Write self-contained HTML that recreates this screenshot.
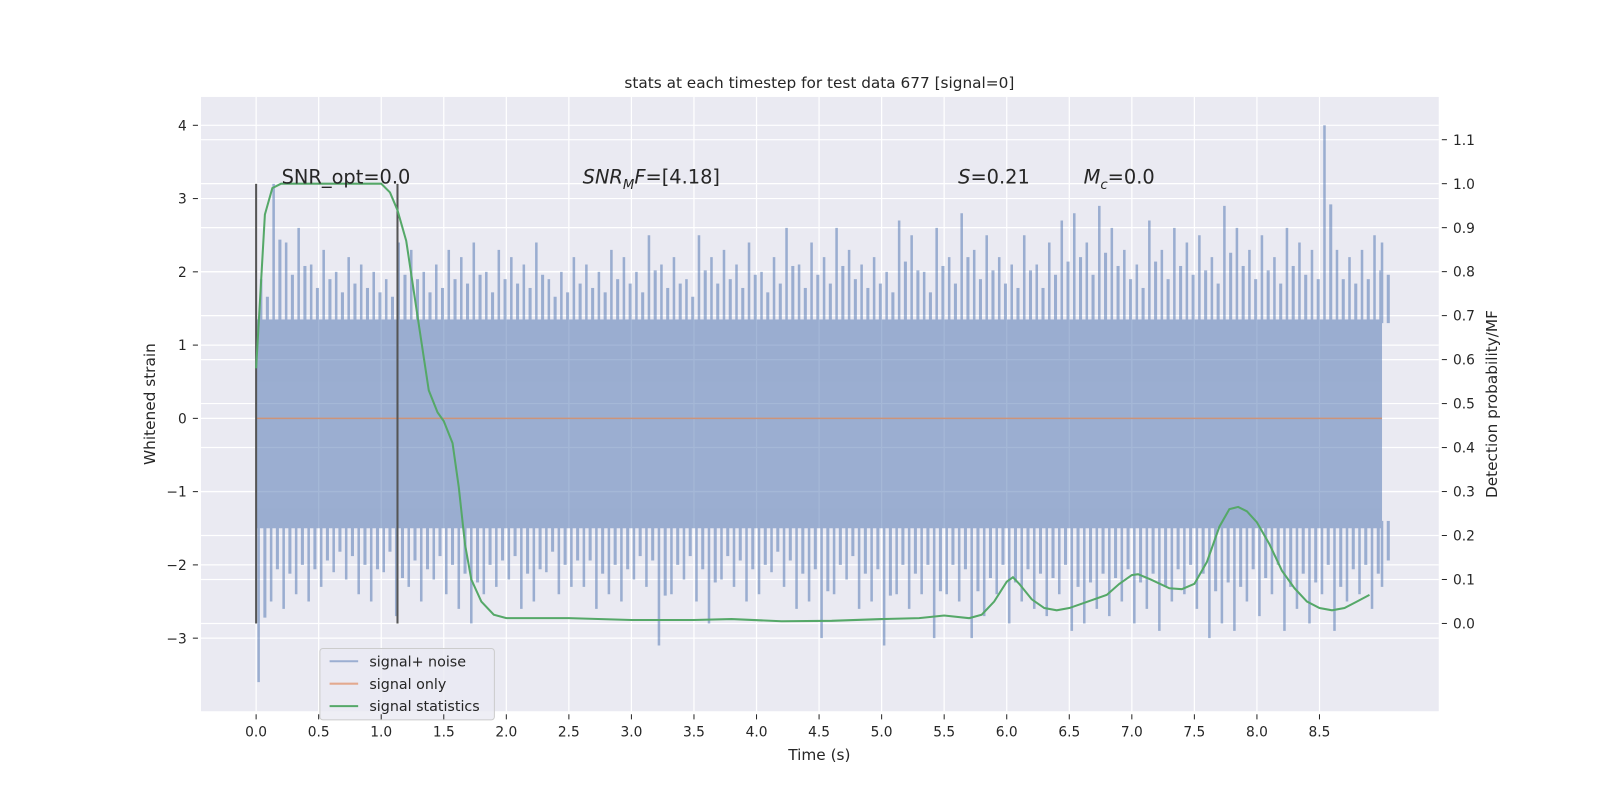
<!DOCTYPE html>
<html><head><meta charset="utf-8"><style>
body{margin:0;background:#fff;}
svg text{font-family:"DejaVu Sans","Liberation Sans",sans-serif;fill:#262626;}
</style></head><body>
<svg width="1600" height="800" xmlns="http://www.w3.org/2000/svg">
<g id="chart" transform="scale(1.0204)">
<rect x="197" y="95" width="1213" height="602" fill="#eaeaf2"/>
<g id="grid"></g>
<g id="noise" opacity="0.5"></g>
<g id="fg"></g>
<text x="803" y="86" font-size="15" text-anchor="middle">stats at each timestep for test data 677 [signal=0]</text>
<text x="803" y="745" font-size="15" text-anchor="middle">Time (s)</text>
<text transform="translate(152,396) rotate(-90)" font-size="15" text-anchor="middle">Whitened strain</text>
<text transform="translate(1467,396) rotate(-90)" font-size="15" text-anchor="middle">Detection probability/MF</text>
<text x="276" y="180" font-size="19">SNR_opt=0.0</text>
<text x="571" y="180" font-size="19"><tspan font-style="italic">SNR</tspan><tspan font-style="italic" font-size="13" dy="5">M</tspan><tspan font-style="italic" dy="-5">F</tspan>=[4.18]</text>
<text x="939" y="180" font-size="19"><tspan font-style="italic">S</tspan>=0.21</text>
<text x="1062" y="180" font-size="19"><tspan font-style="italic">M</tspan><tspan font-style="italic" font-size="13" dy="5">c</tspan><tspan dy="-5">=0.0</tspan></text>
<g>
<rect x="313.5" y="635.5" width="171" height="70" rx="3" fill="#eaeaf2" fill-opacity="0.8" stroke="#ccc"/>
<line x1="323" y1="648" x2="351" y2="648" stroke="#9baed1" stroke-width="2"/>
<text x="362" y="653" font-size="14">signal+ noise</text>
<line x1="323" y1="670" x2="351" y2="670" stroke="#e3a98f" stroke-width="2"/>
<text x="362" y="675" font-size="14">signal only</text>
<line x1="323" y1="692" x2="351" y2="692" stroke="#55a868" stroke-width="2"/>
<text x="362" y="697" font-size="14">signal statistics</text>
</g>
</g>
</svg>
<script>
const xTicks=[0,0.5,1,1.5,2,2.5,3,3.5,4,4.5,5,5.5,6,6.5,7,7.5,8,8.5];
const yTicks=[-3,-2,-1,0,1,2,3,4];
const rTicks=[0,0.1,0.2,0.3,0.4,0.5,0.6,0.7,0.8,0.9,1.0,1.1];
const statT=[0,0.07,0.13,0.2,1.0,1.07,1.13,1.2,1.3,1.38,1.45,1.5,1.57,1.62,1.67,1.72,1.8,1.9,2.0,2.5,3.0,3.5,3.8,4.2,4.6,5.0,5.3,5.5,5.7,5.8,5.9,6.0,6.05,6.1,6.2,6.3,6.4,6.5,6.6,6.8,6.9,7.0,7.05,7.15,7.3,7.4,7.5,7.6,7.7,7.78,7.85,7.92,8.0,8.1,8.2,8.3,8.4,8.5,8.6,8.7,8.8,8.9];
const statV=[0.58,0.93,0.99,1.0,1.0,0.98,0.94,0.87,0.68,0.53,0.48,0.46,0.41,0.31,0.18,0.1,0.05,0.02,0.012,0.012,0.008,0.008,0.01,0.005,0.006,0.01,0.012,0.018,0.012,0.02,0.05,0.095,0.105,0.09,0.055,0.035,0.03,0.035,0.045,0.065,0.09,0.11,0.112,0.1,0.08,0.078,0.09,0.14,0.22,0.26,0.265,0.255,0.23,0.18,0.12,0.08,0.05,0.035,0.03,0.035,0.05,0.065];
const noiseUpper=[1.9,3.2,2.4,2.6,2.1,2.3,2.0,2.2,2.1,2.0,1.9,2.4,2.3,2.0,2.1,2.3,2.2,2.4,2.0,2.3,2.2,2.1,2.4,1.9,2.0,2.2,2.1,2.0,2.3,2.2,2.0,2.5,2.1,2.2,1.9,2.5,2.2,2.3,2.1,2.4,2.0,2.2,2.6,2.1,2.4,2.2,2.6,2.3,2.1,2.2,2.0,2.7,2.5,2.0,2.6,2.2,2.8,2.3,2.5,2.2,2.1,2.5,2.1,2.4,2.7,2.8,2.4,2.9,2.6,2.3,2.1,2.7,2.3,2.6,2.4,2.5,2.2,2.9,2.6,2.3,2.5,2.2,2.6,2.4,2.3,4.0,2.3,2.2,2.3,2.5,2.4];
const noiseLower=[-3.6,-2.5,-2.6,-2.4,-2.5,-2.3,-2.1,-2.2,-2.4,-2.5,-2.1,-2.7,-2.3,-2.5,-2.2,-2.4,-2.6,-2.8,-2.4,-2.3,-2.2,-2.6,-2.5,-2.1,-2.4,-2.3,-2.3,-2.6,-2.4,-2.5,-2.2,-2.3,-3.1,-2.4,-2.2,-2.5,-2.8,-2.2,-2.3,-2.5,-2.4,-2.1,-2.3,-2.6,-2.5,-3.0,-2.4,-2.2,-2.6,-2.5,-3.1,-2.4,-2.6,-2.4,-3.0,-2.4,-2.5,-3.0,-2.7,-2.4,-2.8,-2.5,-2.6,-2.7,-2.4,-2.9,-2.8,-2.6,-2.7,-2.5,-2.8,-2.6,-2.9,-2.5,-2.4,-2.6,-3.0,-2.8,-2.9,-2.5,-2.7,-2.4,-2.9,-2.6,-2.8,-2.4,-2.9,-2.5,-2.4,-2.6,-2.3];
const noiseDT=0.1, noiseEnd=9.0;
const vlinesT=[0,1.13];
const NS="http://www.w3.org/2000/svg";
const X=t=>251+t*122.6, Y=v=>410-v*71.8, R=p=>611-p*431;
function mk(tag,attrs,parent){const e=document.createElementNS(NS,tag);for(const k in attrs)e.setAttribute(k,attrs[k]);parent.appendChild(e);return e;}
const grid=document.getElementById('grid'),svg=document.getElementById('chart'),noise=document.getElementById('noise'),fg=document.getElementById('fg');
xTicks.forEach(t=>{const l=mk('line',{x1:X(t),x2:X(t),y1:95,y2:697,stroke:'#fff','stroke-width':1.2},grid);

const tx=mk('text',{x:X(t),y:722,'font-size':13.5,'text-anchor':'middle'},svg);tx.textContent=t.toFixed(1);
});
yTicks.forEach(v=>{const l=mk('line',{x1:197,x2:1410,y1:Y(v),y2:Y(v),stroke:'#fff','stroke-width':1.2},grid);

const tx=mk('text',{x:183,y:Y(v)+5,'font-size':13.5,'text-anchor':'end'},svg);tx.textContent=v<0?'\u2212'+(-v):v;

mk('line',{x1:189,x2:194,y1:Y(v),y2:Y(v),stroke:'#262626'},svg);});
rTicks.forEach(p=>{const l=mk('line',{x1:197,x2:1410,y1:R(p),y2:R(p),stroke:'#fff','stroke-width':1.2},grid);

mk('line',{x1:1413,x2:1418,y1:R(p),y2:R(p),stroke:'#262626'},svg);
const tx=mk('text',{x:1424,y:R(p)+5,'font-size':13.5},svg);tx.textContent=p.toFixed(1);
});
const band=mk('rect',{x:X(0),y:Y(1.35),width:X(noiseEnd)-X(0),height:Y(-1.5)-Y(1.35),fill:'#4c72b0'},noise);

noiseUpper.forEach((v,i)=>{const t=Math.min(i*noiseDT+0.04,noiseEnd);
const s=mk('line',{x1:X(t),x2:X(t),y1:Y(1.3),y2:Y(v),stroke:'#4c72b0','stroke-width':2.5},noise);

const s2=mk('line',{x1:X(t+0.05),x2:X(t+0.05),y1:Y(1.3),y2:Y(1.3+(v-1.3)*0.6),stroke:'#4c72b0','stroke-width':3},noise);
});
noiseLower.forEach((v,i)=>{const t=Math.min(i*noiseDT+0.02,noiseEnd);
const s=mk('line',{x1:X(t),x2:X(t),y1:Y(-1.4),y2:Y(v),stroke:'#4c72b0','stroke-width':2.5},noise);

const s2=mk('line',{x1:X(t+0.05),x2:X(t+0.05),y1:Y(-1.4),y2:Y(-1.4+(v+1.4)*0.6),stroke:'#4c72b0','stroke-width':3},noise);
});
const so=mk('line',{x1:X(0),x2:X(noiseEnd),y1:Y(0),y2:Y(0),stroke:'#dd8452','stroke-width':1.5,'stroke-opacity':0.7},fg);

vlinesT.forEach(t=>{const l=mk('line',{x1:X(t),x2:X(t),y1:Y(3.2),y2:Y(-2.8),stroke:'#555','stroke-width':2},fg);
});
const pts=statT.map((t,i)=>X(t).toFixed(1)+','+R(statV[i]).toFixed(1)).join(' ');
const pl=mk('polyline',{points:pts,fill:'none',stroke:'#55a868','stroke-width':2},fg);

xTicks.forEach(t=>mk('line',{x1:X(t),x2:X(t),y1:700,y2:705,stroke:'#262626'},svg));
</script>
</body></html>
